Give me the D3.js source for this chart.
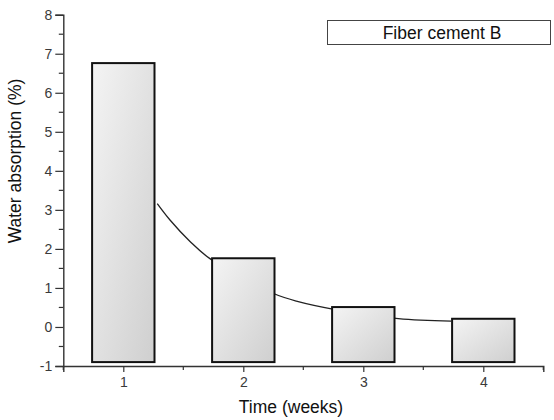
<!DOCTYPE html>
<html>
<head>
<meta charset="utf-8">
<script src="https://cdn.jsdelivr.net/npm/d3@7"></script>
<style>
  html, body { margin: 0; padding: 0; background: #fff; }
  svg { display: block; }
  text { font-family: Arial, "Liberation Sans", sans-serif; }
</style>
</head>
<body>
<svg id="chart" width="554" height="420"></svg>
<script>
// Water absorption of fiber cement B per week
const weeks = [1, 2, 3, 4];
const absorption = [6.76, 1.76, 0.51, 0.21];
const barBase = -0.9;

// Decay fit curve, sampled between the bars
const fitX = [1.283, 1.389, 1.556, 1.722, 2.242, 2.458, 2.778, 3.292, 3.731];
const fitY = [3.16, 2.74, 2.19, 1.75, 0.87, 0.65, 0.44, 0.215, 0.15];

const yTicks = [-1, 0, 1, 2, 3, 4, 5, 6, 7, 8];
const xTicks = [1, 2, 3, 4];
const legendLabel = "Fiber cement B";

const svg = d3.select("#chart");
const plotLeft = 63.3, plotRight = 543.3, plotTop = 14.7, plotBottom = 366;

const x = d3.scaleLinear().domain([0.5, 4.5]).range([plotLeft, plotRight]);
const y = d3.scaleLinear().domain([-1, 8]).range([plotBottom, plotTop]);

// gradient fill for the bars
const defs = svg.append("defs");
const grad = defs.append("linearGradient")
  .attr("id", "barFill").attr("x1", "0%").attr("y1", "0%").attr("x2", "100%").attr("y2", "100%");
grad.append("stop").attr("offset", "0%").attr("stop-color", "#f4f4f4");
grad.append("stop").attr("offset", "100%").attr("stop-color", "#cfcfcf");

// fit curve drawn first so the bars cover it
const line = d3.line().x(d => x(d[0])).y(d => y(d[1])).curve(d3.curveCatmullRom.alpha(0.5));
svg.append("path")
  .datum(fitX.map((v, i) => [v, fitY[i]]))
  .attr("d", line)
  .attr("fill", "none")
  .attr("stroke", "#222")
  .attr("stroke-width", 1.3);

// bars
const barW = 0.52;
svg.append("g").selectAll("rect")
  .data(weeks)
  .join("rect")
  .attr("x", (d) => x(d - barW / 2))
  .attr("width", x(barW) - x(0))
  .attr("y", (d, i) => y(absorption[i]))
  .attr("height", (d, i) => y(barBase) - y(absorption[i]))
  .attr("fill", "url(#barFill)")
  .attr("stroke", "#111")
  .attr("stroke-width", 2);

// Y axis
const yAxis = d3.axisLeft(y).tickValues(yTicks).tickFormat(d => String(d)).tickSize(8).tickPadding(3);
const gy = svg.append("g").attr("transform", `translate(${plotLeft},0)`).call(yAxis);
const yMinor = d3.range(-0.5, 8, 1);
gy.selectAll(".minor").data(yMinor).join("line")
  .attr("class", "minor")
  .attr("x1", -4.5).attr("x2", 0)
  .attr("y1", d => y(d)).attr("y2", d => y(d));

// X axis
const xAxis = d3.axisBottom(x).tickValues(xTicks).tickFormat(d => String(d)).tickSize(6).tickPadding(5);
const gx = svg.append("g").attr("transform", `translate(0,${plotBottom})`).call(xAxis);
const xMinor = [0.5, 1.5, 2.5, 3.5, 4.5];
gx.selectAll(".minor").data(xMinor).join("line")
  .attr("class", "minor")
  .attr("y1", 0).attr("y2", 4)
  .attr("x1", d => x(d)).attr("x2", d => x(d));

[gx, gy].forEach(g => {
  g.attr("font-size", 14).attr("font-family", "Arial, 'Liberation Sans', sans-serif");
  g.select(".domain").attr("stroke", "#333").attr("stroke-width", 1.4);
  g.selectAll("line").attr("stroke", "#333").attr("stroke-width", 1.2);
  g.selectAll("text").attr("fill", "#3a3a3a");
});

// axis titles
svg.append("text")
  .attr("transform", `translate(16,161) rotate(-90)`)
  .attr("text-anchor", "middle")
  .attr("dominant-baseline", "middle")
  .attr("font-size", 17.5)
  .attr("fill", "#111")
  .text("Water absorption (%)");

svg.append("text")
  .attr("x", 291)
  .attr("y", 413)
  .attr("text-anchor", "middle")
  .attr("font-size", 17.5)
  .attr("fill", "#111")
  .text("Time (weeks)");

// legend box
svg.append("rect")
  .attr("x", 327.5).attr("y", 20.5)
  .attr("width", 223).attr("height", 24)
  .attr("fill", "#fff")
  .attr("stroke", "#444")
  .attr("stroke-width", 1);
svg.append("text")
  .attr("x", 442).attr("y", 33)
  .attr("text-anchor", "middle")
  .attr("dominant-baseline", "central")
  .attr("font-size", 17.5)
  .attr("fill", "#111")
  .text(legendLabel);
</script>
</body>
</html>
